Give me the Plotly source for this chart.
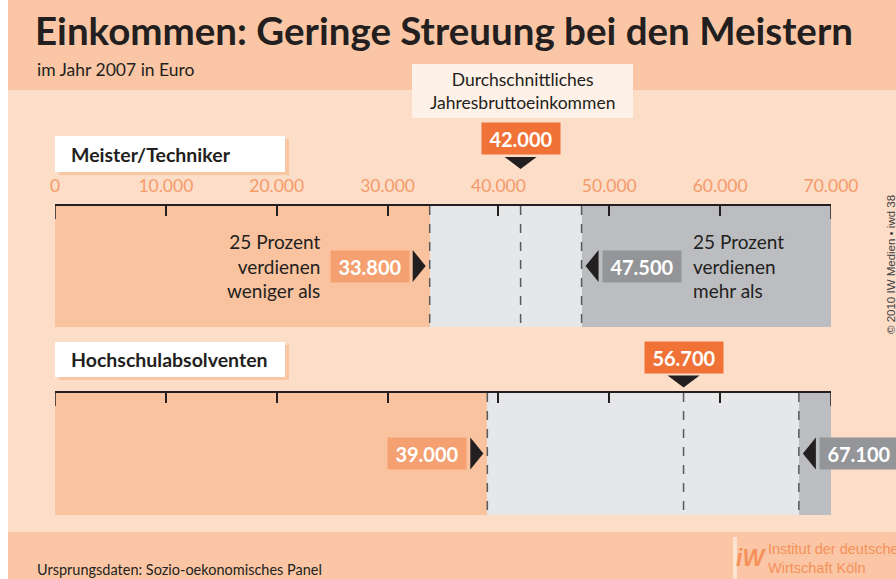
import plotly.graph_objects as go

# ---------------- data ----------------
categories = ["Meister/Techniker", "Hochschulabsolventen"]
lower_quartile = [33800, 39000]   # 25 % earn less than
mean_income = [42000, 56700]      # average annual gross income
upper_quartile = [47500, 67100]   # 25 % earn more than
axis_max = 70000
tick_vals = [0, 10000, 20000, 30000, 40000, 50000, 60000, 70000]
tick_text = ["0", "10.000", "20.000", "30.000", "40.000", "50.000", "60.000", "70.000"]
value_labels_low = ["33.800", "39.000"]
value_labels_mean = ["42.000", "56.700"]
value_labels_high = ["47.500", "67.100"]

# ---------------- layout constants (pixels) ----------------
W, H = 896, 579
L_M, R_M = 55, 65
PW = W - L_M - R_M

def px(x):
    return (x - L_M) / PW

DARK = "#231F20"
BAND = "#FAC6A5"
MID_BG = "#FCDDC8"
C_LOW = "#FAC3A0"
C_MID = "#E6E7E8"
C_HIGH = "#BCBDC0"
C_ORANGE = "#F07236"
C_SALMON = "#F5A070"
C_GRAY = "#939598"
C_TICK = "#F59B6A"
BODY = "Lato, Open Sans, sans-serif"

panel_top = [205, 392]
panel_bot = [327, 515]
centers = [(a + b) / 2 for a, b in zip(panel_top, panel_bot)]
heights = [b - a for a, b in zip(panel_top, panel_bot)]

fig = go.Figure()

# quartile segments
fig.add_trace(go.Bar(orientation="h", y=centers, base=[0, 0], x=lower_quartile,
                     width=heights, marker=dict(color=C_LOW, line=dict(width=0)),
                     hoverinfo="skip", showlegend=False))
fig.add_trace(go.Bar(orientation="h", y=centers, base=lower_quartile,
                     x=[u - l for u, l in zip(upper_quartile, lower_quartile)],
                     width=heights, marker=dict(color=C_MID, line=dict(width=0)),
                     hoverinfo="skip", showlegend=False))
fig.add_trace(go.Bar(orientation="h", y=centers, base=upper_quartile,
                     x=[axis_max - u for u in upper_quartile],
                     width=heights, marker=dict(color=C_HIGH, line=dict(width=0)),
                     hoverinfo="skip", showlegend=False))
# dummy traces so the overlay axes exist
for ax in ["x2", "x3"]:
    fig.add_trace(go.Scatter(x=[0, axis_max], y=[-10, -10], xaxis=ax, yaxis="y",
                             mode="markers", marker=dict(opacity=0),
                             hoverinfo="skip", showlegend=False))

shapes = []
ann = []

# backgrounds
shapes.append(dict(type="rect", xref="paper", yref="y", x0=px(8), x1=px(W + 5), y0=0, y1=90,
                   fillcolor=BAND, line=dict(width=0), layer="below"))
shapes.append(dict(type="rect", xref="paper", yref="y", x0=px(8), x1=px(W + 5), y0=532, y1=H + 5,
                   fillcolor=BAND, line=dict(width=0), layer="below"))
shapes.append(dict(type="rect", xref="paper", yref="y", x0=px(-5), x1=px(8), y0=-5, y1=H + 5,
                   fillcolor="white", line=dict(width=0), layer="below"))

# header texts
ann.append(dict(text="<b>Einkommen: Geringe Streuung bei den Meistern</b>", xref="paper", yref="y",
                x=px(33), y=30, xanchor="left", yanchor="middle", showarrow=False,
                font=dict(family=BODY, size=38.5, color=DARK)))
ann.append(dict(text="im Jahr 2007 in Euro", xref="paper", yref="y",
                x=px(35), y=69, xanchor="left", yanchor="middle", showarrow=False,
                font=dict(family=BODY, size=17.5, color=DARK)))

# "Durchschnittliches Jahresbruttoeinkommen" box
shapes.append(dict(type="rect", xref="paper", yref="y", x0=px(412), x1=px(633), y0=64, y1=118,
                   fillcolor="#FEF1E7", line=dict(width=0), layer="below"))
ann.append(dict(text="Durchschnittliches<br>Jahresbruttoeinkommen", xref="paper", yref="y",
                x=px(522.5), y=91, xanchor="center", yanchor="middle", showarrow=False,
                font=dict(family=BODY, size=17.5, color=DARK)))

# category label boxes
label_box_y = [(136, 172), (342, 377)]
for cat, (y0, y1) in zip(categories, label_box_y):
    shapes.append(dict(type="rect", xref="paper", yref="y", x0=px(59), x1=px(289), y0=y0 + 3, y1=y1 + 3,
                       fillcolor="#F9C6A4", line=dict(width=0), layer="below"))
    shapes.append(dict(type="rect", xref="paper", yref="y", x0=px(55), x1=px(285), y0=y0, y1=y1,
                       fillcolor="white", line=dict(width=0), layer="below"))
    ann.append(dict(text="<b>" + cat + "</b>", xref="paper", yref="y", x=px(69), y=(y0 + y1) / 2,
                    xanchor="left", yanchor="middle", showarrow=False,
                    font=dict(family=BODY, size=19.5, color=DARK)))

for i in range(2):
    top, bot = panel_top[i], panel_bot[i]
    # longer end ticks
    for v in (0, axis_max):
        shapes.append(dict(type="line", xref="x", yref="y", x0=v, x1=v, y0=top, y1=top + 14,
                           line=dict(color=DARK, width=1.5), layer="above"))
    # dashed lines
    for v in (lower_quartile[i], mean_income[i], upper_quartile[i]):
        shapes.append(dict(type="line", xref="x", yref="y", x0=v, x1=v, y0=top + 1, y1=bot,
                           line=dict(color="#58595B", width=1.5, dash="dash"), layer="above"))
    # mean label + triangle
    my = 138.5 if i == 0 else 357
    ann.append(dict(text="<b>" + value_labels_mean[i] + "</b>", xref="x", yref="y",
                    x=mean_income[i], y=my, xanchor="center", yanchor="middle", showarrow=False,
                    width=74, height=27, borderpad=2, bgcolor=C_ORANGE,
                    font=dict(family=BODY, size=20, color="white")))
    ty = my + 18.5
    shapes.append(dict(type="path", xref="x", yref="y", xsizemode="pixel", xanchor=mean_income[i],
                       path=f"M -16,{ty} L 16,{ty} L 0,{ty + 12} Z",
                       fillcolor=DARK, line=dict(width=0), layer="above"))
    # quartile labels
    cy = (top + bot) / 2
    ann.append(dict(text="<b>" + value_labels_low[i] + "</b>", xref="x", yref="y",
                    x=lower_quartile[i], xshift=-20, y=cy, xanchor="right", yanchor="middle",
                    showarrow=False, width=74, height=27, borderpad=2, bgcolor=C_SALMON,
                    font=dict(family=BODY, size=20, color="white")))
    shapes.append(dict(type="path", xref="x", yref="y", xsizemode="pixel", xanchor=lower_quartile[i],
                       path=f"M -17,{cy - 16} L -4,{cy} L -17,{cy + 16} Z",
                       fillcolor=DARK, line=dict(width=0), layer="above"))
    ann.append(dict(text="<b>" + value_labels_high[i] + "</b>", xref="x", yref="y",
                    x=upper_quartile[i], xshift=20, y=cy, xanchor="left", yanchor="middle",
                    showarrow=False, width=74, height=27, borderpad=2, bgcolor=C_GRAY,
                    font=dict(family=BODY, size=20, color="white")))
    shapes.append(dict(type="path", xref="x", yref="y", xsizemode="pixel", xanchor=upper_quartile[i],
                       path=f"M 17,{cy - 16} L 4,{cy} L 17,{cy + 16} Z",
                       fillcolor=DARK, line=dict(width=0), layer="above"))

# explanatory texts (first panel)
ann.append(dict(text="25 Prozent<br>verdienen<br>weniger als", xref="x", yref="y",
                x=lower_quartile[0], xshift=-108, y=266, xanchor="right", yanchor="middle",
                align="right", showarrow=False, font=dict(family=BODY, size=19, color=DARK)))
ann.append(dict(text="25 Prozent<br>verdienen<br>mehr als", xref="x", yref="y",
                x=upper_quartile[0], xshift=109, y=266, xanchor="left", yanchor="middle",
                align="left", showarrow=False, font=dict(family=BODY, size=19, color=DARK)))

# footer
ann.append(dict(text="Ursprungsdaten: Sozio-oekonomisches Panel", xref="paper", yref="y",
                x=px(35), y=569, xanchor="left", yanchor="middle", showarrow=False,
                font=dict(family=BODY, size=14.5, color=DARK)))
shapes.append(dict(type="rect", xref="paper", yref="y", x0=px(733), x1=px(737), y0=537, y1=H + 5,
                   fillcolor="#FDE3D1", line=dict(width=0), layer="below"))
ann.append(dict(text="<b><i>iW</i></b>", xref="paper", yref="y", x=px(734), y=558,
                xanchor="left", yanchor="middle", showarrow=False,
                font=dict(family="Liberation Sans, Arial", size=23, color="#F5915A")))
ann.append(dict(text="Institut der deutschen<br>Wirtschaft Köln", xref="paper", yref="y",
                x=px(766), y=558, xanchor="left", yanchor="middle", align="left", showarrow=False,
                font=dict(family="Liberation Sans, Arial", size=14.5, color="#F5915A")))
ann.append(dict(text="© 2010 IW Medien • iwd 38", xref="paper", yref="y", x=px(891), y=265,
                xanchor="center", yanchor="middle", textangle=-90, showarrow=False,
                font=dict(family="Liberation Sans, Arial", size=11.5, color="#414042")))

axis_common = dict(range=[0, axis_max], tickvals=tick_vals, ticktext=tick_text,
                   ticks="inside", ticklen=10, tickwidth=1.5, tickcolor=DARK,
                   showline=True, linecolor=DARK, linewidth=1.5, showgrid=False,
                   zeroline=False, overlaying="x", anchor="free", side="top", fixedrange=True)

fig.update_layout(
    width=W, height=H,
    margin=dict(l=L_M, r=R_M, t=0, b=0, pad=0, autoexpand=False),
    paper_bgcolor=MID_BG, plot_bgcolor="rgba(0,0,0,0)",
    barmode="overlay", bargap=0,
    xaxis=dict(range=[0, axis_max], visible=False, fixedrange=True),
    xaxis2=dict(position=1 - panel_top[0] / H, showticklabels=True, ticklabelstandoff=5,
                tickfont=dict(family=BODY, size=17.5, color=C_TICK), **axis_common),
    xaxis3=dict(position=1 - panel_top[1] / H, showticklabels=False, **axis_common),
    yaxis=dict(range=[H, 0], domain=[0, 1], visible=False, fixedrange=True),
    shapes=shapes, annotations=ann, showlegend=False,
)

fig.write_html("out.html", config={"displayModeBar": False},
               post_script="document.body.style.margin='0';document.body.style.overflow='hidden';")
